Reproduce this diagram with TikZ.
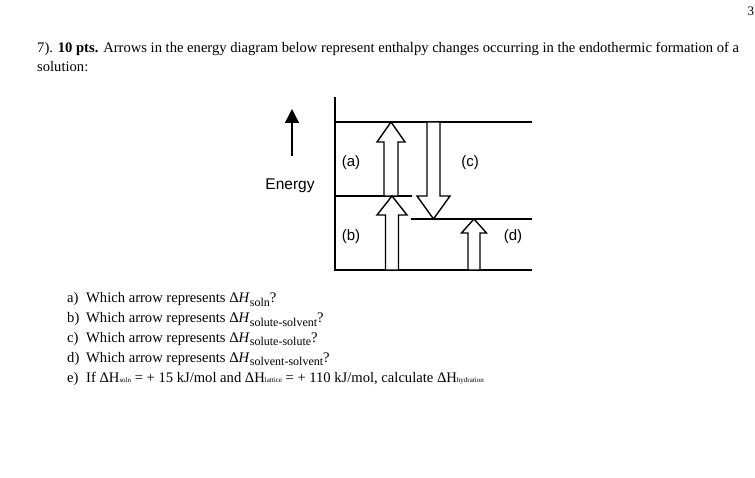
\documentclass[tikz,border=0pt]{standalone}
\usepackage{fontspec}
\setmainfont{Liberation Serif}
\newfontfamily\arial{Liberation Sans}
\usetikzlibrary{arrows.meta,positioning}

% block arrow: centre x, tail y, head base y, tip y, half shaft, half head
\newcommand{\fatarrow}[6]{%
  \draw[blk] (#1-#5,#2) -- (#1-#5,#3) -- (#1-#6,#3) -- (#1,#4)
    -- (#1+#6,#3) -- (#1+#5,#3) -- (#1+#5,#2) -- cycle;}
\newcommand{\sbig}[1]{\raisebox{-3.5pt}{\fontsize{12}{13}\selectfont #1}}
\newcommand{\ssmall}[1]{\raisebox{-0.5pt}{\fontsize{7}{8}\selectfont #1}}

\begin{document}
\begin{tikzpicture}[x=1pt,y=-1pt]
\tikzstyle{txt}=[anchor=base west, inner sep=0pt, font=\fontsize{14.6}{16}\selectfont]
\tikzstyle{lvl}=[line width=1.6pt]
\tikzstyle{blk}=[fill=white, line width=1.4pt, miter limit=10]
\tikzstyle{lbl}=[inner sep=0pt, font=\arial\fontsize{15}{17}\selectfont]
\useasboundingbox (0,0) rectangle (755,478);

% page number
\node[txt, font=\fontsize{13}{14}\selectfont] (pg) at (747.5,16) {3};

% question text
\node[txt] (q0) at (37,53) {7). \textbf{10 pts.} Arrows in the energy diagram below represent enthalpy changes occurring in the endothermic formation of a};
\node[txt] (q1) at (37,72) {solution:};

% levels
\coordinate (ax0) at (335,97);
\coordinate (ax1) at (335,270);
\draw[lvl] (ax0) -- (ax1) -- (532,270);
\draw[lvl] (335,122) -- (532,122);
\draw[lvl] (335,196) -- (412,196);
\draw[lvl] (411,219) -- (532,219);

% enthalpy arrows
\fatarrow{391}{196}{142}{122}{7}{14}
\fatarrow{392}{270}{215}{196}{6.5}{15}
\fatarrow{433.5}{122}{196}{219}{6.5}{16.5}
\fatarrow{474}{270}{233}{219}{6}{12.5}

\node[lbl] (la) at (351,163) {(a)};
\node[lbl] (lb) at (351,237) {(b)};
\node[lbl] (lc) at (470,163) {(c)};
\node[lbl] (ld) at (513,237) {(d)};

% energy axis
\node[lbl, font=\arial\fontsize{15.5}{17}\selectfont] (en) at (290,186) {Energy};
\coordinate (eTip) at (292,109);
\draw[line width=1.4pt, -{Triangle[length=14pt,width=14pt]}] ([yshift=23pt]eTip |- en.north) -- (eTip);

% questions
\node[txt] (qa) at (67,303) {a)};
\node[txt] (qb) at (67,323) {b)};
\node[txt] (qc) at (67,342) {c)};
\node[txt] (qd) at (67,362) {d)};
\node[txt] (qe) at (67,382) {e)};
\node[txt] (ta) at (86,303) {Which arrow represents Δ\textit{H}\sbig{soln}?};
\node[txt] (tb) at (86,323) {Which arrow represents Δ\textit{H}\sbig{solute-solvent}?};
\node[txt] (tc) at (86,342) {Which arrow represents Δ\textit{H}\sbig{solute-solute}?};
\node[txt] (td) at (86,362) {Which arrow represents Δ\textit{H}\sbig{solvent-solvent}?};
\node[txt] (te) at (86,382) {If ΔH\ssmall{soln} = + 15 kJ/mol and ΔH\ssmall{lattice} = + 110 kJ/mol, calculate ΔH\ssmall{hydration}};
\end{tikzpicture}
\end{document}
